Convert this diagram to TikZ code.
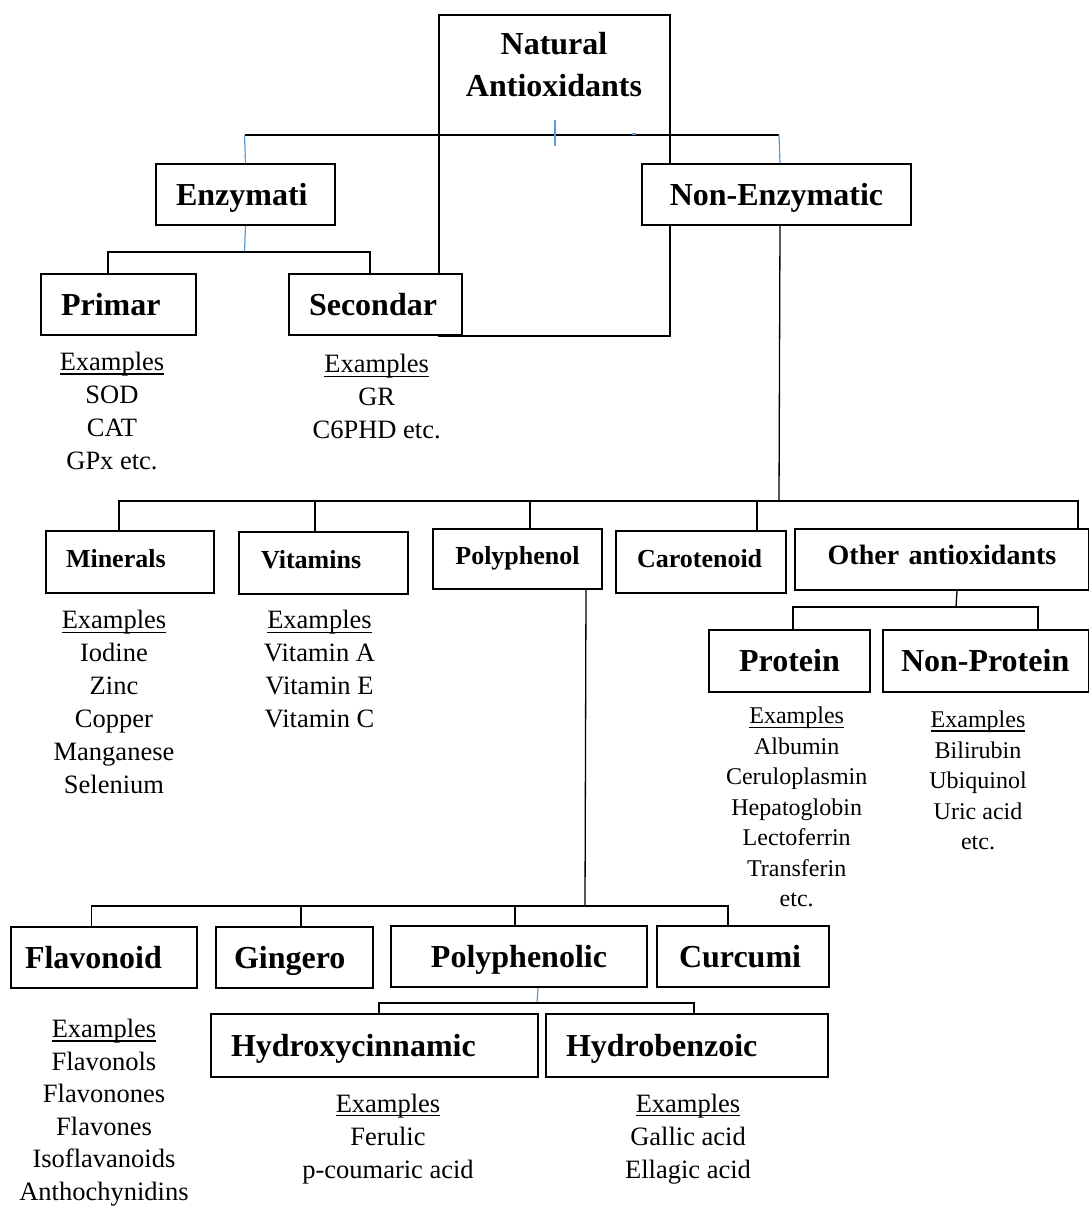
\documentclass[tikz,border=0pt]{standalone}
\usepackage{fontspec}
\setmainfont{Liberation Serif}
\usepackage{tikz}
\usetikzlibrary{positioning}
\definecolor{WordBlue}{HTML}{5B9BD5}
\newcommand{\exhead}{\setbox0\hbox{Examples}\rlap{\rule[-4.2pt]{\wd0}{1.6pt}}\box0}

\tikzset{
    catbox/.style={draw,line width=2pt,fill=white,anchor=north west,
        inner ysep=0pt,inner xsep=20pt,minimum height=61pt,align=left,
        text height=21pt,text depth=0pt,font=\bfseries\fontsize{32}{38}\selectfont},
    subbox/.style={catbox,minimum height=62pt,text height=17pt,text depth=7pt,
        font=\bfseries\fontsize{26}{31}\selectfont},
    conn/.style={line width=1.3pt},
    blueconn/.style={line width=1.2pt,draw=WordBlue},
    exlist/.style={anchor=north,align=center,inner sep=0pt,
        font=\fontsize{26.5}{33}\selectfont},
    exsmall/.style={exlist,font=\fontsize{24}{30.5}\selectfont}
}

\begin{document}
\begin{tikzpicture}[x=1pt,y=-1pt]
    \useasboundingbox (0,0) rectangle (1089,1207);

    % root box, partly hidden behind the boxes below
    \node[draw,line width=2pt,anchor=north west,minimum width=231pt,
          minimum height=321pt,inner sep=0pt] (natural) at (438,14) {};
    \node[anchor=north,align=center,inner sep=0pt,
          font=\bfseries\fontsize{32}{41.7}\selectfont] (naturaltxt)
          at (554,32) {Natural\\Antioxidants};

    \coordinate (topbus) at (555,135);
    \coordinate (tl) at (244.5,135);
    \coordinate (tr) at (779,135);
    \draw[conn] (tl) -- (tr);
    \draw[blueconn] ([yshift=15pt]topbus) -- ([yshift=-11pt]topbus);
    \draw[blueconn,line width=1.5pt] ([xshift=77pt,yshift=1pt]topbus) -- ([xshift=81pt,yshift=1pt]topbus);

    % first level
    \node[catbox,text width=139pt] (enz) at (155,163) {Enzymati};
    \node[catbox,text width=229pt,align=center] (nonenz) at (641,163) {Non-Enzymatic};
    \draw[blueconn] (tl) -- (enz.north);
    \draw[blueconn] (tr) -- ([xshift=3.5pt]nonenz.north);

    % enzymatic branch
    \node[catbox,text width=115pt] (prim) at (40,273) {Primar};
    \node[catbox,text width=133pt] (sec) at (288,273) {Secondar};
    \coordinate (enzbus) at (244.5,252);
    \draw[blueconn] (enz.south) -- (enzbus);
    \draw[conn] ([xshift=-10.5pt]prim.north) |- (enzbus);
    \draw[conn] ([xshift=-5.5pt]sec.north) |- (enzbus);

    \node[exlist] (primex) at (112,352) {\exhead\\SOD\\CAT\\GPx etc.};
    \node[exlist] (secex) at (376.7,354.4) {\exhead\\GR\\C6PHD etc.};

    % non-enzymatic branch
    \node[subbox,text width=128pt] (min) at (45,530) {Minerals};
    \node[subbox,text width=125pt,inner xsep=22pt] (vit) at (238,531) {Vitamins};
    \node[subbox,text width=149pt,inner xsep=10pt,align=center,minimum height=60pt] (poly) at (432,528) {Polyphenol};
    \node[subbox,text width=128pt,inner xsep=21pt] (caro) at (615,530) {Carotenoid};
    \node[subbox,text width=274pt,inner xsep=10pt,align=center,minimum height=61pt,
          font=\bfseries\fontsize{28}{33}\selectfont] (other) at (794,528) {Other antioxidants};
    \coordinate (nebus) at (779,501);
    \draw[conn] ([xshift=3.5pt]nonenz.south) -- (nebus);
    \draw[conn] ([xshift=-11pt]min.north) |- (nebus);
    \draw[conn] ([xshift=-8.5pt]vit.north) |- (nebus);
    \draw[conn] ([xshift=12.5pt]poly.north) |- (nebus);
    \draw[conn] ([xshift=56pt]caro.north) |- (nebus);
    \draw[conn] ([xshift=136pt]other.north) |- (nebus);

    \node[exlist] (minex) at (114,610.4) {\exhead\\Iodine\\Zinc\\Copper\\Manganese\\Selenium};
    \node[exlist] (vitex) at (319.5,610.4) {\exhead\\Vitamin A\\Vitamin E\\Vitamin C};

    % other antioxidants
    \node[catbox,text width=141pt,inner xsep=10pt,align=center,minimum height=62pt] (prot) at (708,629) {Protein};
    \node[catbox,text width=170pt,inner xsep=18pt,minimum height=62pt] (nonprot) at (882,629) {Non-Protein};
    \coordinate (otbus) at (956,607);
    \draw[conn] ([xshift=15pt]other.south) -- (otbus);
    \draw[conn] ([xshift=3.5pt]prot.north) |- (otbus);
    \draw[conn] ([xshift=52pt]nonprot.north) |- (otbus);

    \node[exsmall] (protex) at (796.7,707.1) {\exhead\\Albumin\\Ceruloplasmin\\Hepatoglobin\\Lectoferrin\\Transferin\\etc.};
    \node[exsmall] (nonprotex) at (978,710.9) {\exhead\\Bilirubin\\Ubiquinol\\Uric acid\\etc.};

    % polyphenol branch
    \node[catbox,text width=158pt,inner xsep=14pt] (flav) at (10,926) {Flavonoid};
    \node[catbox,text width=121pt,inner xsep=18pt] (ging) at (215,926) {Gingero};
    \node[catbox,text width=236pt,inner xsep=10pt,align=center] (polyph) at (390,925) {Polyphenolic};
    \node[catbox,text width=128pt,inner xsep=22pt] (curc) at (656,925) {Curcumi};
    \coordinate (pobus) at (585,906);
    \draw[conn] ([xshift=68.5pt]poly.south) -- (pobus);
    \draw[conn] ([xshift=-12.5pt]flav.north) |- (pobus);
    \draw[conn] ([xshift=6.5pt]ging.north) |- (pobus);
    \draw[conn] ([xshift=-4pt]polyph.north) |- (pobus);
    \draw[conn] ([xshift=-15pt]curc.north) |- (pobus);

    \node[exlist,font=\fontsize{26.5}{32.5}\selectfont] (flavex) at (104,1019) {\exhead\\Flavonols\\Flavonones\\Flavones\\Isoflavanoids\\Anthochynidins};

    % polyphenolic acids
    \node[catbox,text width=287pt,minimum height=63pt] (hydroxy) at (210,1013) {Hydroxycinnamic};
    \node[catbox,text width=242pt,minimum height=63pt] (hydrob) at (545,1013) {Hydrobenzoic};
    \coordinate (phbus) at (537,1003);
    \draw[blueconn] ([xshift=19pt]polyph.south) -- (phbus);
    \draw[conn] ([xshift=4.5pt]hydroxy.north) |- (phbus);
    \draw[conn] ([xshift=7pt]hydrob.north) |- (phbus);

    \node[exlist] (hydroxyex) at (388,1093.6) {\exhead\\Ferulic\\p-coumaric acid};
    \node[exlist] (hydrobex) at (688,1093.6) {\exhead\\Gallic acid\\Ellagic acid};
\end{tikzpicture}
\end{document}
